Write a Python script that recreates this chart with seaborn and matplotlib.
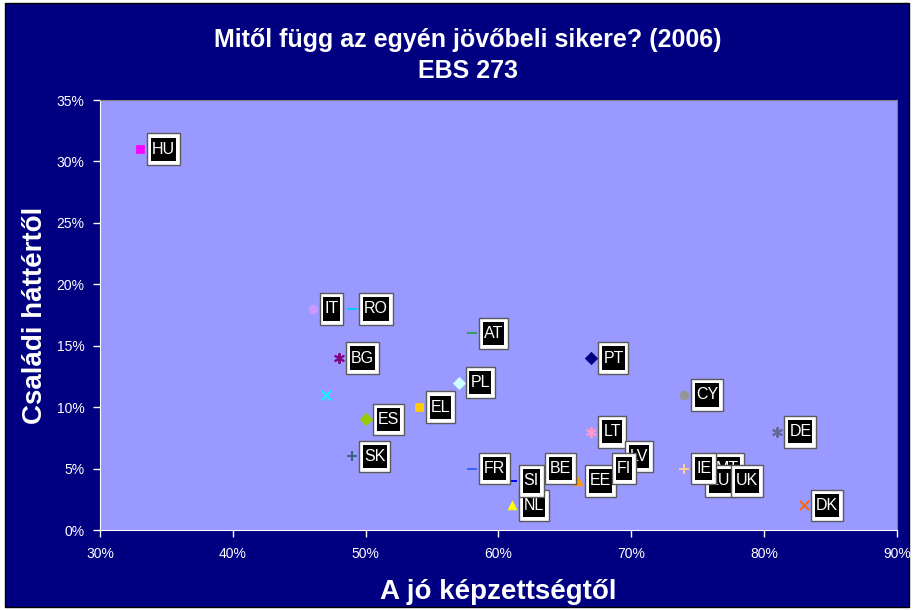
import matplotlib
matplotlib.use("Agg")
import matplotlib.pyplot as plt
import seaborn as sns
import pandas as pd
from matplotlib.patches import Rectangle
from matplotlib.path import Path
from matplotlib.ticker import FuncFormatter

# Data (percent)
countries = ["HU", "IT", "RO", "AT", "BG", "PT", "PL", "", "EL", "ES", "CY",
             "LT", "DE", "SK", "FR", "BE", "NL", "SI", "EE", "LV", "FI",
             "MT", "LU", "UK", "IE", "DK"]
skills = [33, 46, 49, 58, 48, 67, 57, 47, 54, 50, 74,
          67, 81, 49, 58, 63, 61, 61, 66, 69, 68,
          75.5, 75, 77, 74, 83]
family = [31, 18, 18, 16, 14, 14, 12, 11, 10, 9, 11,
          8, 8, 6, 5, 5, 2, 4, 4, 6, 5,
          5, 4, 4, 5, 2]

df = pd.DataFrame({"country": countries, "skills": skills, "family": family})

# marker / colour per series, like the Excel defaults
star = (6, 2, 0)
styles = {
    "HU": ("s", "#FF00FF"), "IT": ("o", "#CC99FF"), "RO": ("_", "#00CCFF"),
    "AT": ("_", "#339966"), "BG": (star, "#800080"), "PT": ("D", "#000080"),
    "PL": ("D", "#CCFFFF"), "": ("x", "#00FFFF"), "EL": ("s", "#FFCC00"),
    "ES": ("D", "#99CC00"), "CY": ("o", "#969696"), "LT": (star, "#FF99CC"),
    "DE": (star, "#666699"), "SK": ("+", "#336680"), "FR": ("_", "#3366FF"),
    "BE": ("_", "#000080"), "NL": ("^", "#FFFF00"), "SI": ("_", "#0000FF"),
    "EE": ("^", "#FF9900"), "LV": ("_", "#6666CC"), "FI": ("_", "#6666CC"),
    "MT": ("_", "#6666CC"), "LU": ("_", "#6666CC"), "UK": ("_", "#6666CC"),
    "IE": ("+", "#FFCC99"), "DK": ("x", "#FF6600"),
}


def label_box(ph, pv):
    # rectangle with separate horizontal / vertical padding (Excel-like label frame)
    def make(x0, y0, width, height, mutation_size):
        dx, dy = ph * mutation_size, pv * mutation_size
        x1, y1 = x0 - dx, y0 - dy
        x2, y2 = x0 + width + dx, y0 + height + dy
        return Path([(x1, y1), (x2, y1), (x2, y2), (x1, y2), (x1, y1)], closed=True)
    return make


sns.set_style("white")
plt.rcParams["font.family"] = ["Liberation Sans", "DejaVu Sans"]

fig = plt.figure(figsize=(9.14, 6.10), dpi=100, facecolor="white")
fig.patches.append(Rectangle((0.006, 0.005), 0.988, 0.99, transform=fig.transFigure,
                             facecolor="#000080", edgecolor="black", lw=1, zorder=-10))
ax = fig.add_axes([0.1094, 0.1311, 0.8720, 0.7049])
ax.set_facecolor("#9999FF")

for _, row in df.iterrows():
    m, c = styles[row["country"]]
    filled = m in ("s", "o", "D", "^")
    sns.scatterplot(x=[row["skills"]], y=[row["family"]], ax=ax, marker=m,
                    color=c, s=40 if filled else 45,
                    edgecolor=c if filled else None,
                    linewidth=1.4 if not filled else 0.5, zorder=3, legend=False)

for _, row in df.iterrows():
    if not row["country"]:
        continue
    pos = (row["skills"], row["family"])
    ax.annotate(row["country"], pos, xytext=(8.5, 0), textcoords="offset points",
                ha="left", va="center", fontsize=11.5, color="white", zorder=5,
                bbox=dict(boxstyle=label_box(0.3, 0.52), facecolor="white",
                          edgecolor="#5a5a5a", lw=1))
    ax.annotate(row["country"], pos, xytext=(8.5, 0), textcoords="offset points",
                ha="left", va="center", fontsize=11.5, color="white", zorder=5,
                bbox=dict(boxstyle=label_box(0.06, 0.26), facecolor="black",
                          edgecolor="none"))

ax.set_xlim(30, 90)
ax.set_ylim(0, 35)
ax.set_xticks(range(30, 91, 10))
ax.set_yticks(range(0, 36, 5))
pct = FuncFormatter(lambda v, p: f"{v:.0f}%")
ax.xaxis.set_major_formatter(pct)
ax.yaxis.set_major_formatter(pct)
ax.tick_params(axis="both", colors="white", labelsize=10, length=5, width=1,
               direction="out", bottom=True, left=True)
ax.tick_params(axis="x", pad=7)
ax.tick_params(axis="y", pad=6)

for side in ["top", "right"]:
    ax.spines[side].set_color("#808080")
for side in ["left", "bottom"]:
    ax.spines[side].set_color("white")

ax.set_xlabel("A jó képzettségtől", fontsize=20, fontweight="bold", color="white", labelpad=13)
ax.set_ylabel("Családi háttértől", fontsize=20, fontweight="bold", color="white", labelpad=6)

fig.text(0.512, 1 - 40 / 610, "Mitől függ az egyén jövőbeli sikere? (2006)", ha="center",
         va="center", fontsize=18, fontweight="bold", color="white")
fig.text(0.512, 1 - 71 / 610, "EBS 273", ha="center", va="center", fontsize=18,
         fontweight="bold", color="white")

fig.savefig("out.png", dpi=100, facecolor=fig.get_facecolor())
